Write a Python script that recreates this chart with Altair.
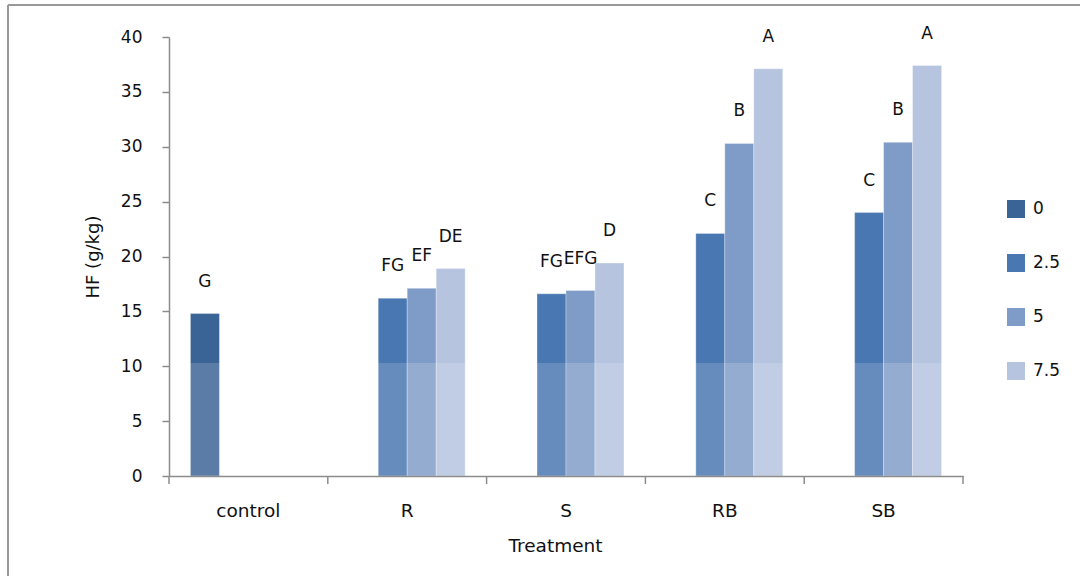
import altair as alt
import pandas as pd

# Treatments along the x axis and dose levels (legend)
treatments = ["control", "R", "S", "RB", "SB"]
doses = ["0", "2.5", "5", "7.5"]

# One row per measured bar: treatment, dose, HF value, significance letter
bar_treatment = ["control", "R", "R", "R", "S", "S", "S", "RB", "RB", "RB", "SB", "SB", "SB"]
bar_dose = ["0", "2.5", "5", "7.5", "2.5", "5", "7.5", "2.5", "5", "7.5", "2.5", "5", "7.5"]
bar_value = [14.8, 16.2, 17.1, 18.9, 16.6, 16.9, 19.4, 22.1, 30.3, 37.1, 24.0, 30.4, 37.4]
bar_letter = ["G", "FG", "EF", "DE", "FG", "EFG", "D", "C", "B", "A", "C", "B", "A"]

dose_colors = ["#3B6496", "#4877B1", "#7F9CC8", "#B6C4DF"]

W, H = 794, 439
FONT = "DejaVu Sans"
GRAY = "#8c8c8c"
INK = "#111111"

df = pd.DataFrame({
    "Treatment": bar_treatment,
    "Dose": bar_dose,
    "HF": bar_value,
    "Letter": bar_letter,
})

x_enc = alt.X(
    "Treatment:N",
    sort=treatments,
    scale=alt.Scale(domain=treatments, paddingInner=0, paddingOuter=0),
    axis=alt.Axis(
        title="Treatment", labelAngle=0, ticks=False, grid=False, labelPadding=25,
        labelFontSize=18.5, titleFontSize=18.5, titleFontWeight="normal",
        titleX=386, titleY=69, titleBaseline="middle",
        domainColor=GRAY, domainWidth=1.5, labelColor=INK, titleColor=INK,
        zindex=1,
    ),
)
xo_enc = alt.XOffset(
    "Dose:N",
    sort=doses,
    scale=alt.Scale(domain=doses, paddingInner=0, paddingOuter=0.74),
)
y_enc = alt.Y(
    "HF:Q",
    scale=alt.Scale(domain=[0, 40], nice=False),
    axis=alt.Axis(
        title="HF (g/kg)", values=list(range(0, 41, 5)), grid=False,
        tickSize=7, tickColor=GRAY, tickWidth=1.5, domainColor=GRAY, domainWidth=1.5,
        labelPadding=20, labelFontSize=17, titleFontSize=18, titleFontWeight="normal",
        titleX=-76, titleY=H / 2, titleAlign="center", titleBaseline="middle",
        labelColor=INK, titleColor=INK, zindex=1,
    ),
)

bars = alt.Chart(df).mark_bar(stroke="white", strokeWidth=0.6, strokeOpacity=0.5).encode(
    x=x_enc,
    xOffset=xo_enc,
    y=y_enc,
    color=alt.Color(
        "Dose:N",
        sort=doses,
        scale=alt.Scale(domain=doses, range=dose_colors),
        legend=alt.Legend(
            title=None, orient="none", legendX=838, legendY=163,
            symbolType="square", symbolSize=324, symbolStrokeWidth=0,
            rowPadding=36, labelOffset=8, labelFontSize=17, labelColor=INK,
            labelFont=FONT,
        ),
    ),
)

letters = alt.Chart(df).mark_text(dy=-32, baseline="middle", fontSize=17, color=INK, font=FONT).encode(
    x=alt.X("Treatment:N", sort=treatments),
    xOffset=alt.XOffset("Dose:N", sort=doses),
    y="HF:Q",
    text="Letter:N",
)

# light band across the lower part of the plot
band = alt.Chart(pd.DataFrame({"lo": [0.0], "hi": [10.3]})).mark_rect(color="white", opacity=0.16).encode(
    x=alt.value(0), x2=alt.value(W), y="lo:Q", y2="hi:Q",
)

# category boundary ticks below the x axis: left edge of each band, plus the axis end
bounds = pd.DataFrame({"Treatment": treatments})
ticks_left = alt.Chart(bounds).mark_rule(color=GRAY, strokeWidth=1.5).encode(
    x=alt.X("Treatment:N", sort=treatments, bandPosition=0),
    y=alt.value(H), y2=alt.value(H + 8),
)
one = pd.DataFrame({"k": [0]})
tick_end = alt.Chart(one).mark_rule(color=GRAY, strokeWidth=1.5).encode(
    x=alt.value(W), y=alt.value(H), y2=alt.value(H + 8),
)

# outer frame edges
frame_left = alt.Chart(one).mark_rule(color="#999999", strokeWidth=2).encode(
    x=alt.value(-161), y=alt.value(-32), y2=alt.value(560),
)
frame_top = alt.Chart(one).mark_rule(color="#999999", strokeWidth=2).encode(
    x=alt.value(-161), x2=alt.value(920), y=alt.value(-32),
)

# configure() replaces the whole config, so it goes before configure_view()
chart = alt.layer(bars, band, letters, ticks_left, tick_end, frame_left, frame_top).properties(
    width=W, height=H,
    autosize=alt.AutoSizeParams(type="none"),
    padding={"left": 169, "top": 37, "right": 117, "bottom": 100},
    background="white",
).configure(font=FONT).configure_view(strokeWidth=0, stroke=None)

chart.save("out.html", embed_options={"renderer": "svg", "actions": False})
